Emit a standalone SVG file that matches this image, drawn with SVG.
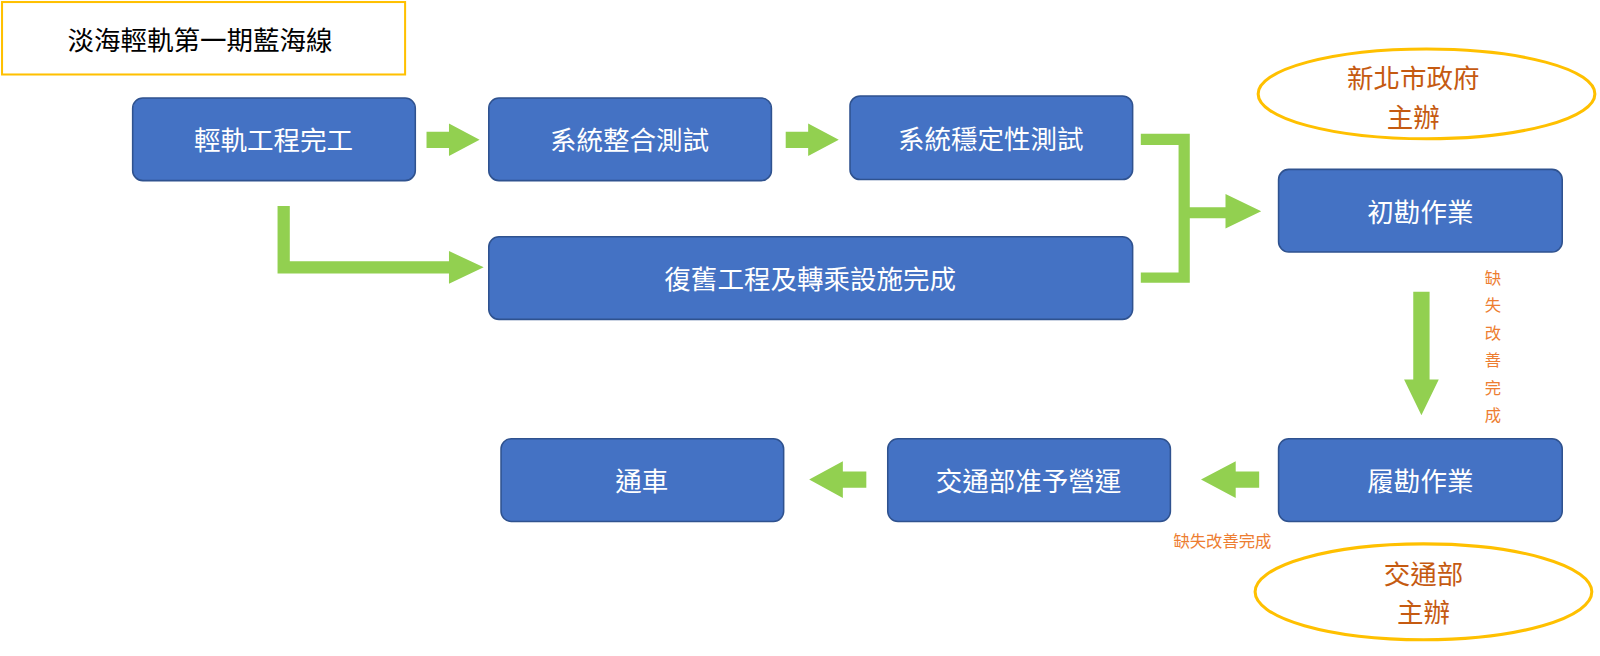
<svg xmlns="http://www.w3.org/2000/svg" width="1600" height="656" viewBox="0 0 1600 656">
<style>
.b rect{fill:#4472C4;stroke:#2F528F;stroke-width:1.5}
.b text{fill:#fff;font-size:26px;text-anchor:middle;dominant-baseline:central;font-family:"Noto Sans CJK TC","Noto Sans CJK SC",sans-serif}
.a{fill:#92D050}
.o ellipse{fill:#fff;stroke:#FFC000;stroke-width:3}
.o text{fill:#C55A11;font-size:26px;text-anchor:middle;font-family:"Noto Sans CJK TC",sans-serif}
.n{fill:#ED7D31;font-size:16px;text-anchor:middle;font-family:"Noto Sans CJK TC",sans-serif}
</style>
<rect width="1600" height="656" fill="#fff"/>
<g transform="scale(1.0204)">
<g id="title"><rect x="2" y="2" width="395" height="71" fill="#fff" stroke="#FFC000" stroke-width="2"/><text x="196" y="38" font-size="26" text-anchor="middle" dominant-baseline="central" font-family="Noto Sans CJK TC,sans-serif">淡海輕軌第一期藍海線</text></g>
<g id="connectors">
<polygon class="a" points="418,129 440,129 440,121 470,137 440,153 440,145 418,145"/>
<polygon class="a" points="770,129 792,129 792,121 822,137 792,153 792,145 770,145"/>
<polygon class="a" points="272,202 284,202 284,256 440,256 440,246 474,262 440,278 440,268 272,268"/>
<polygon class="a" points="1118,131 1166,131 1166,203 1201,203 1201,190 1236,207 1201,224 1201,214 1166,214 1166,277 1118,277 1118,267 1155,267 1155,142 1118,142"/>
<polygon class="a" points="1385,286 1401,286 1401,372 1410,372 1393,407 1376,372 1385,372"/>
<polygon class="a" points="1234,462 1211,462 1211,452 1177,470 1211,488 1211,478 1234,478"/>
<polygon class="a" points="849,462 826,462 826,452 793,470 826,488 826,478 849,478"/>
</g>
<g id="n1" class="b"><rect x="130" y="96" width="277" height="81" rx="10"/><text x="268" y="136">輕軌工程完工</text></g>
<g id="n2" class="b"><rect x="479" y="96" width="277" height="81" rx="10"/><text x="617" y="136">系統整合測試</text></g>
<g id="n3" class="b"><rect x="833" y="94" width="277" height="82" rx="10"/><text x="971" y="135">系統穩定性測試</text></g>
<g id="n4" class="b"><rect x="479" y="232" width="631" height="81" rx="10"/><text x="794" y="272">復舊工程及轉乘設施完成</text></g>
<g id="n5" class="b"><rect x="1253" y="166" width="278" height="81" rx="10"/><text x="1392" y="206">初勘作業</text></g>
<g id="n6" class="b"><rect x="1253" y="430" width="278" height="81" rx="10"/><text x="1392" y="470">履勘作業</text></g>
<g id="n7" class="b"><rect x="870" y="430" width="277" height="81" rx="10"/><text x="1008" y="470">交通部准予營運</text></g>
<g id="n8" class="b"><rect x="491" y="430" width="277" height="81" rx="10"/><text x="629" y="470">通車</text></g>
<g id="o1" class="o"><ellipse cx="1398" cy="92" rx="165" ry="44"/><text x="1385" y="86">新北市政府</text><text x="1385" y="124">主辦</text></g>
<g id="o2" class="o"><ellipse cx="1395" cy="580" rx="165" ry="47"/><text x="1395" y="572">交通部</text><text x="1395" y="610">主辦</text></g>
<g id="notes">
<text class="n" x="1198" y="536">缺失改善完成</text>
<text class="n" x="1463" y="278">缺</text><text class="n" x="1463" y="305">失</text><text class="n" x="1463" y="332">改</text><text class="n" x="1463" y="359">善</text><text class="n" x="1463" y="386">完</text><text class="n" x="1463" y="413">成</text>
</g>
</g>
</svg>
